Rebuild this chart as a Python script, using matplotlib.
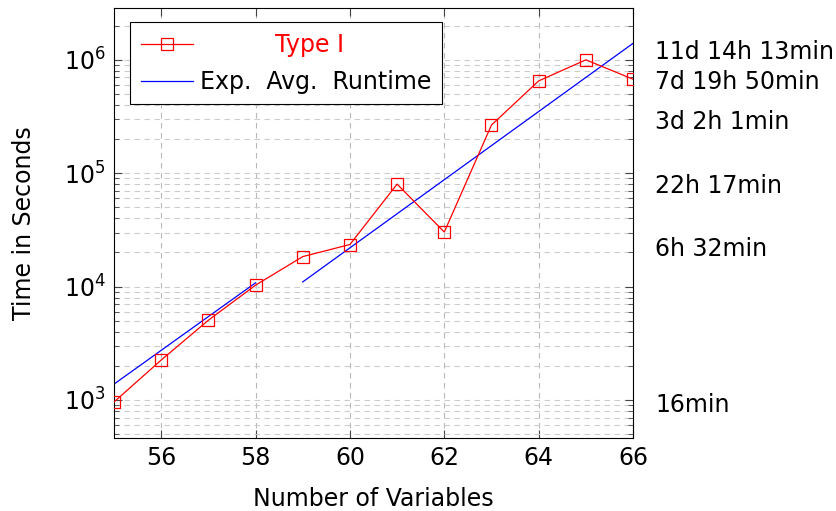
import numpy as np
import matplotlib.pyplot as plt
from matplotlib.ticker import LogLocator, FixedLocator

plt.rcParams['font.family'] = ['DejaVu Sans']
plt.rcParams['mathtext.fontset'] = 'dejavusans'

# datos
variables = [55, 56, 57, 58, 59, 60, 61, 62, 63, 64, 65, 66]
tiempos = [960, 2250, 5050, 10300, 18400, 23520, 80220, 30300, 266460, 653000, 1001580, 676200]

# runtime esperado (dos ajustes)
exp_x1 = [55, 58]
exp_y1 = [1380, 10800]
exp_x2 = [59, 66]
exp_y2 = [11000, 1400000]

# etiquetas a la derecha
etiquetas_y = [1001580, 676200, 266460, 80220, 23520, 960]
etiquetas = ['11d 14h 13min', '7d 19h 50min', '3d 2h 1min', '22h 17min', '6h 32min', '16min']
desplaz = [6, -2, 2, -1, -3, -2]

fig = plt.figure(figsize=(8.37, 5.11), dpi=100)
ax = fig.add_axes([0.1362, 0.1429, 0.6201, 0.8414])

ax.plot(variables, tiempos, color='red', lw=0.9, marker='s', ms=8.5,
        mfc='none', mec='red', mew=0.9, label='Type I', zorder=3)
ax.plot(exp_x1, exp_y1, color='blue', lw=0.9, label='Exp.  Avg.  Runtime', zorder=2)
ax.plot(exp_x2, exp_y2, color='blue', lw=0.9, zorder=2)

ax.set_yscale('log')
ax.set_xlim(55, 66)
ax.set_ylim(462, 2.87e6)
ax.set_xticks([56, 58, 60, 62, 64, 66])
ax.xaxis.set_minor_locator(FixedLocator([57, 59, 61, 63, 65]))
ax.yaxis.set_minor_locator(LogLocator(base=10, subs=np.arange(2, 10)))

ax.grid(True, which='major', axis='x', color='#b8b8b8', ls=(0, (5, 4)), lw=0.8)
ax.grid(True, which='both', axis='y', color='#cccccc', ls=(0, (5, 4)), lw=0.8)
ax.tick_params(which='both', direction='in', top=True, right=True, labelsize=17, color='#444444')
ax.tick_params(which='major', length=6, width=0.8, pad=6)
ax.tick_params(which='minor', length=3.5, width=0.6)
ax.tick_params(axis='x', which='minor', length=0)

ax.set_xlabel('Number of Variables', fontsize=17, labelpad=12)
ax.set_ylabel('Time in Seconds', fontsize=17, labelpad=20)

for yv, txt, d in zip(etiquetas_y, etiquetas, desplaz):
    ax.annotate(txt, xy=(1.0, yv), xycoords=('axes fraction', 'data'),
                xytext=(16, d), textcoords='offset points',
                fontsize=17, va='center', ha='left', annotation_clip=False)

leg = ax.legend(loc='upper left', fontsize=17, fancybox=False, framealpha=1,
                edgecolor='black', handlelength=2.2, handletextpad=0.3,
                borderpad=0.45, borderaxespad=0, labelspacing=0.55,
                bbox_to_anchor=(0.031, 0.967))
leg.get_frame().set_linewidth(0.8)
leg.get_texts()[0].set_color('red')
leg.get_texts()[0].set_text('          Type I')

plt.savefig('out.png', dpi=100)
